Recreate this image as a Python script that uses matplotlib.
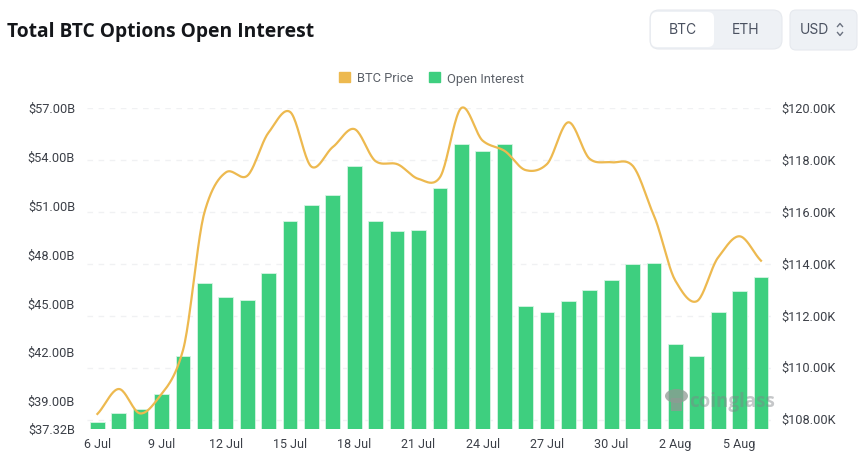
import numpy as np
import matplotlib
matplotlib.use("Agg")
import matplotlib.pyplot as plt
from matplotlib.patches import FancyBboxPatch, Patch, Ellipse, Rectangle
from matplotlib.lines import Line2D
from matplotlib.transforms import Affine2D, ScaledTranslation

W, H = 860, 452
title = "Total BTC Options Open Interest"
dates = ["6 Jul","7 Jul","8 Jul","9 Jul","10 Jul","11 Jul","12 Jul","13 Jul","14 Jul","15 Jul","16 Jul",
         "17 Jul","18 Jul","19 Jul","20 Jul","21 Jul","22 Jul","23 Jul","24 Jul","25 Jul","26 Jul","27 Jul",
         "28 Jul","29 Jul","30 Jul","31 Jul","1 Aug","2 Aug","3 Aug","4 Aug","5 Aug","6 Aug"]
open_interest = [37.73,38.32,38.53,39.47,41.81,46.25,45.41,45.21,46.88,50.09,51.07,51.69,53.43,50.09,49.48,49.52,
                 52.08,54.81,54.38,54.79,44.84,44.51,45.19,45.86,46.44,47.42,47.50,42.55,41.80,44.51,45.78,46.64]
btc_price = [108.22,109.18,108.24,108.99,110.68,115.98,117.52,117.39,119.06,119.85,117.74,118.50,119.19,117.95,
             117.84,117.27,117.33,120.00,118.74,118.36,117.61,117.84,119.45,118.04,117.91,117.78,115.85,113.35,
             112.56,114.25,115.06,114.12]
oi_ticks = [37.32,39,42,45,48,51,54,57]
oi_labels = ["$37.32B","$39.00B","$42.00B","$45.00B","$48.00B","$51.00B","$54.00B","$57.00B"]
price_ticks = [108,110,112,114,116,118,120]
price_labels = ["$108.00K","$110.00K","$112.00K","$114.00K","$116.00K","$118.00K","$120.00K"]

GREEN = "#3ECF7F"; GOLD = "#EDB94F"; TXT = "#3c4048"
plt.rcParams["font.family"] = ["Roboto", "DejaVu Sans"]

fig = plt.figure(figsize=(W/100, H/100), dpi=100)
L, R, T, B = 86.7, 771.7, 109, 430
ax = fig.add_axes([L/W, 1-B/H, (R-L)/W, (B-T)/H])
ax2 = ax.twinx()
x = np.arange(len(dates))
ax.set_xlim(-0.5, len(dates)-0.5)
ax.set_ylim(37.32, 57)
ax2.set_ylim(107.64, 120)

ax.hlines(price_ticks, -0.5, len(dates)-0.5, transform=ax2.transData, colors="#f0f1f3",
          linewidth=1, linestyles=(0,(4,4)), zorder=0)
ax.bar(x, open_interest, width=0.69, color=GREEN, edgecolor="#d6f5e4", linewidth=0.6, zorder=2)

# smooth rendering of the price line (cardinal spline through the daily values)
px = x.astype(float); py = np.array(btc_price)
tang = np.gradient(py, px)*0.85
tt = np.linspace(0, 1, 24)
cx, cy = [], []
for i in range(len(px)-1):
    h00 = 2*tt**3-3*tt**2+1; h10 = tt**3-2*tt**2+tt; h01 = -2*tt**3+3*tt**2; h11 = tt**3-tt**2
    cx.append(px[i]+tt); cy.append(h00*py[i]+h10*tang[i]+h01*py[i+1]+h11*tang[i+1])
ax2.plot(np.concatenate(cx), np.concatenate(cy), color=GOLD, linewidth=1.6, clip_on=False, zorder=3)

for s in ax.spines.values(): s.set_visible(False)
for s in ax2.spines.values(): s.set_visible(False)
ax.set_yticks(oi_ticks, oi_labels, fontsize=9.2, color=TXT)
ax2.set_yticks(price_ticks, price_labels, fontsize=9.2, color=TXT)
ax.set_xticks(x[::3], dates[::3], fontsize=9, color=TXT)
ax.tick_params(axis="y", length=0, pad=8.4)
ax2.tick_params(axis="y", length=0, pad=7)
ax.tick_params(axis="x", length=0, pad=6)
up = ScaledTranslation(0, 1.4/100, fig.dpi_scale_trans)
for lab in ax.get_yticklabels() + ax2.get_yticklabels():
    lab.set_transform(lab.get_transform() + up)

px_tr = Affine2D().scale(1, -1).translate(0, H)
def P(artist):
    artist.set_transform(px_tr)
    fig.add_artist(artist)
    return artist

fig.text(7/W, 1-32/H, title, fontsize=13.85, fontweight="bold", color="#14161a", va="center",
         family=["Open Sans", "DejaVu Sans"])

fig.legend(handles=[Patch(color=GOLD, label="BTC Price"), Patch(color=GREEN, label="Open Interest")],
           loc="center", bbox_to_anchor=(431.5/W, 1-79/H), ncols=2, frameon=False, fontsize=9.3,
           handlelength=0.85, handleheight=0.85, handletextpad=0.55, columnspacing=1.15, labelcolor="#5b6068")

# currency / asset controls
P(FancyBboxPatch((650,11), 132, 39, boxstyle="round,pad=0,rounding_size=9", fc="#eef1f5", ec="#e6e9ee", lw=0.8))
P(FancyBboxPatch((651,13), 63, 35, boxstyle="round,pad=0,rounding_size=6", fc="white", ec="none"))
P(FancyBboxPatch((790,11), 67, 40, boxstyle="round,pad=0,rounding_size=6", fc="#eef1f5", ec="#e6e9ee", lw=0.8))
for tx, s in [(683,"BTC"),(746,"ETH"),(814,"USD")]:
    fig.text(tx/W, 1-30.5/H, s, fontsize=10, color="#4a5160", ha="center", va="center",
             family=["Inter", "DejaVu Sans"])
P(Line2D([837.5,840,842.5],[27.5,24.5,27.5], color="#6b7280", lw=1))
P(Line2D([837.5,840,842.5],[33.5,36.5,33.5], color="#6b7280", lw=1))

# watermark
P(Ellipse((676.5,397), 23, 14, fc="#8f9a94", ec="none", alpha=0.75, zorder=5))
P(Rectangle((671,399), 11, 13, fc="#8f9a94", ec="none", alpha=0.75, zorder=5))
fig.text(732.5/W, 1-402.5/H, "coinglass", fontsize=13.5, fontweight="bold", color="#808488", alpha=0.45,
         ha="center", va="center", zorder=5, family=["Open Sans", "DejaVu Sans"])

fig.savefig("out.png", dpi=100)
